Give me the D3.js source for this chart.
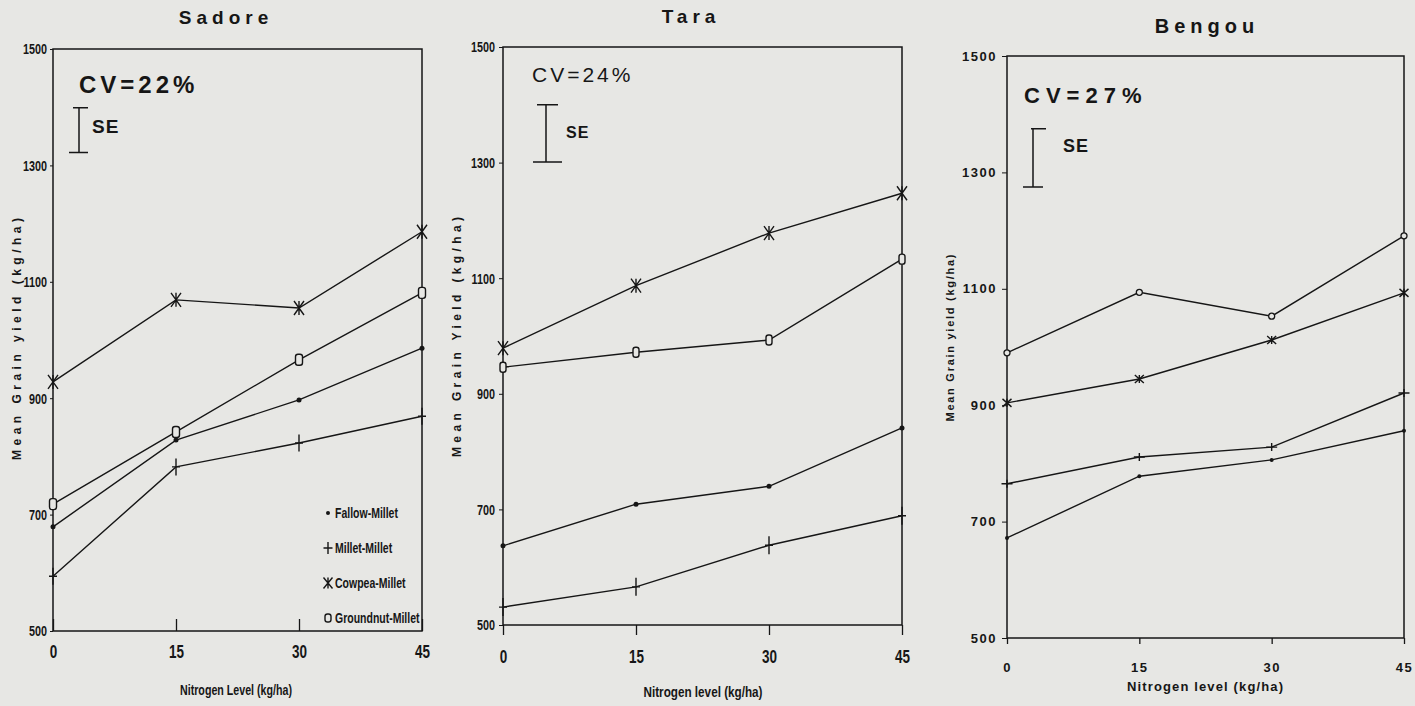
<!DOCTYPE html>
<html>
<head>
<meta charset="utf-8">
<script src="https://cdn.jsdelivr.net/npm/d3@7"></script>
<style>
  body { margin: 0; background: #e7e7e4; }
  svg { display: block; }
</style>
</head>
<body>
<svg id="chart" width="1415" height="706"></svg>
<script>
// Données (kg/ha)
const nitrogen = [0, 15, 30, 45];
const yieldTicks = [500, 700, 900, 1100, 1300, 1500];
const systems = ['Fallow-Millet', 'Millet-Millet', 'Cowpea-Millet', 'Groundnut-Millet'];
const sites = ['Sadore', 'Tara', 'Bengou'];
const cvPercent = [22, 24, 27];
const seTop = [1399, 1400, 1375];
const seSize = [77, 99, 100];

const sadoreFallow = [679, 828, 897, 986];
const sadoreMillet = [594, 782, 823, 869];
const sadoreCowpea = [928, 1069, 1055, 1186];
const sadoreGroundnut = [718, 842, 966, 1081];

const taraFallow = [637, 709, 740, 841];
const taraMillet = [531, 566, 638, 689];
const taraCowpea = [979, 1087, 1178, 1247];
const taraGroundnut = [946, 972, 993, 1133];

const bengouFallow = [672, 778, 806, 856];
const bengouMillet = [765, 811, 828, 921];
const bengouCowpea = [904, 945, 1012, 1093];
const bengouGroundnut = [990, 1094, 1053, 1191];

// Styles
const ink = '#161616';
const paper = '#e7e7e4';
const arial = "'Liberation Sans', Arial, sans-serif";

const svg = d3.select('#chart');
svg.append('rect').attr('width', 1415).attr('height', 706).attr('fill', paper);

// Mise en page de chaque panneau (squeeze < 1 = police étroite simulée)
const panels = [
  {
    series: [sadoreFallow, sadoreMillet, sadoreCowpea, sadoreGroundnut],
    box: { left: 53, right: 422, top: 49, bottom: 631 },
    title: { x: 226, y: 24, size: 19, ls: 5 },
    cv: { x: 79, y: 93, size: 24, weight: 'bold', ls: 4 },
    se: { x: 79, top: [73, 88], bottom: [69, 88], tx: 92, ty: 133, size: 19 },
    yTick: { squeeze: 0.72, size: 15, len: 3, pad: 3, ls: 0 },
    xTick: { squeeze: 0.75, size: 18, len: -12, baseline: 658, ls: 0 },
    yLabel: { x: 17, cy: 339, len: 242, size: 12, text: 'Mean Grain yield (kg/ha)' },
    xLabel: { cx: 236, y: 695, len: 112, size: 15, text: 'Nitrogen Level (kg/ha)', adjust: 'spacingAndGlyphs' },
    marks: { dot: 2.5, plusH: 17, plusW: 8, starW: 10, starH: 14, boxW: 7, boxH: 11, circle: false },
    legend: { x: 328, tx: 335, rows: [513, 548, 583, 618], size: 15, squeeze: 0.7 }
  },
  {
    series: [taraFallow, taraMillet, taraCowpea, taraGroundnut],
    box: { left: 503, right: 902, top: 47, bottom: 625 },
    title: { x: 691, y: 23, size: 19, ls: 5 },
    cv: { x: 532, y: 82, size: 21, weight: 'normal', ls: 3 },
    se: { x: 546, top: [537, 558], bottom: [533, 562], tx: 566, ty: 138, size: 16 },
    yTick: { squeeze: 0.72, size: 15, len: 4, pad: 4, ls: 0 },
    xTick: { squeeze: 0.75, size: 18, len: 10, baseline: 663, ls: 0 },
    yLabel: { x: 457, cy: 337, len: 240, size: 12, text: 'Mean Grain Yield (kg/ha)' },
    xLabel: { cx: 703, y: 697, len: 119, size: 15, text: 'Nitrogen level (kg/ha)', adjust: 'spacingAndGlyphs' },
    marks: { dot: 2.5, plusH: 18, plusW: 8, starW: 10, starH: 14, boxW: 6, boxH: 10, circle: false },
    legend: null
  },
  {
    series: [bengouFallow, bengouMillet, bengouCowpea, bengouGroundnut],
    box: { left: 1007, right: 1404, top: 56, bottom: 638 },
    title: { x: 1207, y: 33, size: 20, ls: 5 },
    cv: { x: 1024, y: 103, size: 22, weight: 'bold', ls: 6 },
    se: { x: 1033, top: [1031, 1046], bottom: [1023, 1043], tx: 1063, ty: 152, size: 18 },
    yTick: { squeeze: 1, size: 13, len: 5, pad: 5, ls: 1.5 },
    xTick: { squeeze: 1, size: 13, len: 6, baseline: 672, ls: 1.5 },
    yLabel: { x: 950, cy: 338, len: 167, size: 11, text: 'Mean Grain yield (kg/ha)' },
    xLabel: { cx: 1205, y: 691, len: 156, size: 13, text: 'Nitrogen level (kg/ha)', adjust: 'spacing' },
    marks: { dot: 2, plusH: 8, plusW: 11, starW: 9, starH: 8, boxW: 6, boxH: 6, circle: true },
    legend: null
  }
];

function drawMarker(g, kind, m) {
  if (kind === 0) {
    g.append('circle').attr('r', m.dot).attr('fill', ink);
  } else if (kind === 1) {
    g.append('path')
      .attr('d', `M0,${-m.plusH / 2}V${m.plusH / 2}M${-m.plusW / 2},0H${m.plusW / 2}`)
      .attr('stroke', ink).attr('stroke-width', 1.4).attr('fill', 'none');
  } else if (kind === 2) {
    const w = m.starW / 2, h = m.starH / 2;
    g.append('path')
      .attr('d', `M${-w},${-h}L${w},${h}M${w},${-h}L${-w},${h}M0,${-h}V${h}`)
      .attr('stroke', ink).attr('stroke-width', 1.4).attr('fill', 'none');
  } else if (m.circle) {
    g.append('circle').attr('r', m.boxW / 2)
      .attr('fill', paper).attr('stroke', ink).attr('stroke-width', 1.3);
  } else {
    g.append('rect')
      .attr('x', -m.boxW / 2).attr('y', -m.boxH / 2)
      .attr('width', m.boxW).attr('height', m.boxH)
      .attr('rx', 2.5)
      .attr('fill', paper).attr('stroke', ink).attr('stroke-width', 1.4);
  }
}

panels.forEach((p, i) => {
  const g = svg.append('g');

  const x = d3.scaleLinear().domain([0, 45]).range([p.box.left, p.box.right]);
  const y = d3.scaleLinear().domain([500, 1500]).range([p.box.bottom, p.box.top]);

  // Titre du site
  g.append('text')
    .attr('x', p.title.x).attr('y', p.title.y)
    .attr('text-anchor', 'middle')
    .attr('font-family', arial).attr('font-weight', 'bold')
    .attr('font-size', p.title.size).attr('letter-spacing', p.title.ls)
    .attr('fill', ink)
    .text(sites[i]);

  // Cadre
  g.append('rect')
    .attr('x', p.box.left).attr('y', p.box.top)
    .attr('width', p.box.right - p.box.left).attr('height', p.box.bottom - p.box.top)
    .attr('fill', 'none').attr('stroke', ink).attr('stroke-width', 1.5);

  // Axe vertical
  g.append('g')
    .attr('transform', `translate(${p.box.left},0)`)
    .call(d3.axisLeft(y).tickValues(yieldTicks).tickFormat(d3.format('d'))
      .tickSize(p.yTick.len).tickPadding(0))
    .call(a => a.select('.domain').remove())
    .call(a => a.selectAll('line').attr('stroke', ink))
    .call(a => a.selectAll('text')
      .attr('x', null)
      .attr('transform', `translate(${-p.yTick.len - p.yTick.pad},0) scale(${p.yTick.squeeze},1)`)
      .attr('font-family', arial).attr('font-weight', 'bold')
      .attr('letter-spacing', p.yTick.ls)
      .attr('font-size', p.yTick.size).attr('fill', ink));

  // Axe horizontal
  g.append('g')
    .attr('transform', `translate(0,${p.box.bottom})`)
    .call(d3.axisBottom(x).tickValues(nitrogen).tickSize(p.xTick.len).tickPadding(0))
    .call(a => a.select('.domain').remove())
    .call(a => a.selectAll('line').attr('stroke', ink).attr('stroke-width', 1.3))
    .call(a => a.selectAll('text')
      .attr('y', null).attr('dy', null)
      .attr('transform', `translate(0,${p.xTick.baseline - p.box.bottom}) scale(${p.xTick.squeeze},1)`)
      .attr('font-family', arial).attr('font-weight', 'bold')
      .attr('letter-spacing', p.xTick.ls)
      .attr('font-size', p.xTick.size).attr('fill', ink));

  // Titres des axes
  g.append('text')
    .attr('transform', `translate(${p.yLabel.x},${p.yLabel.cy}) rotate(-90)`)
    .attr('text-anchor', 'middle').attr('dy', '0.35em')
    .attr('font-family', arial).attr('font-weight', 'bold')
    .attr('font-size', p.yLabel.size).attr('fill', ink)
    .attr('textLength', p.yLabel.len).attr('lengthAdjust', 'spacing')
    .text(p.yLabel.text);

  g.append('text')
    .attr('x', p.xLabel.cx).attr('y', p.xLabel.y)
    .attr('text-anchor', 'middle')
    .attr('font-family', arial).attr('font-weight', 'bold')
    .attr('font-size', p.xLabel.size).attr('fill', ink)
    .attr('textLength', p.xLabel.len).attr('lengthAdjust', p.xLabel.adjust)
    .text(p.xLabel.text);

  // CV et barre d'erreur standard
  g.append('text')
    .attr('x', p.cv.x).attr('y', p.cv.y)
    .attr('font-family', arial).attr('font-weight', p.cv.weight)
    .attr('font-size', p.cv.size).attr('letter-spacing', p.cv.ls)
    .attr('fill', ink)
    .text(`CV=${cvPercent[i]}%`);

  const seY1 = y(seTop[i]);
  const seY2 = y(seTop[i] - seSize[i]);
  g.append('path')
    .attr('d', `M${p.se.x},${seY1}V${seY2}` +
      `M${p.se.top[0]},${seY1}H${p.se.top[1]}` +
      `M${p.se.bottom[0]},${seY2}H${p.se.bottom[1]}`)
    .attr('stroke', ink).attr('stroke-width', 1.5).attr('fill', 'none');
  g.append('text')
    .attr('x', p.se.tx).attr('y', p.se.ty)
    .attr('font-family', arial).attr('font-weight', 'bold')
    .attr('font-size', p.se.size).attr('letter-spacing', 1)
    .attr('fill', ink)
    .text('SE');

  // Courbes
  const line = d3.line().x((d, j) => x(nitrogen[j])).y(d => y(d));
  p.series.forEach(values => {
    g.append('path')
      .datum(values)
      .attr('d', line)
      .attr('fill', 'none').attr('stroke', ink).attr('stroke-width', 1.4);
  });
  p.series.forEach((values, k) => {
    values.forEach((v, j) => {
      const mg = g.append('g').attr('transform', `translate(${x(nitrogen[j])},${y(v)})`);
      drawMarker(mg, k, p.marks);
    });
  });

  // Légende (Sadore seulement)
  if (p.legend) {
    const small = { ...p.marks, dot: 2, plusH: 12, plusW: 9, starH: 11, starW: 9, boxW: 6, boxH: 8 };
    systems.forEach((name, k) => {
      const row = p.legend.rows[k];
      const mg = g.append('g').attr('transform', `translate(${p.legend.x},${row})`);
      drawMarker(mg, k, small);
      g.append('text')
        .attr('transform', `translate(${p.legend.tx},${row}) scale(${p.legend.squeeze},1)`)
        .attr('dy', '0.35em')
        .attr('font-family', arial).attr('font-weight', 'bold')
        .attr('font-size', p.legend.size).attr('fill', ink)
        .text(name);
    });
  }
});
</script>
</body>
</html>
